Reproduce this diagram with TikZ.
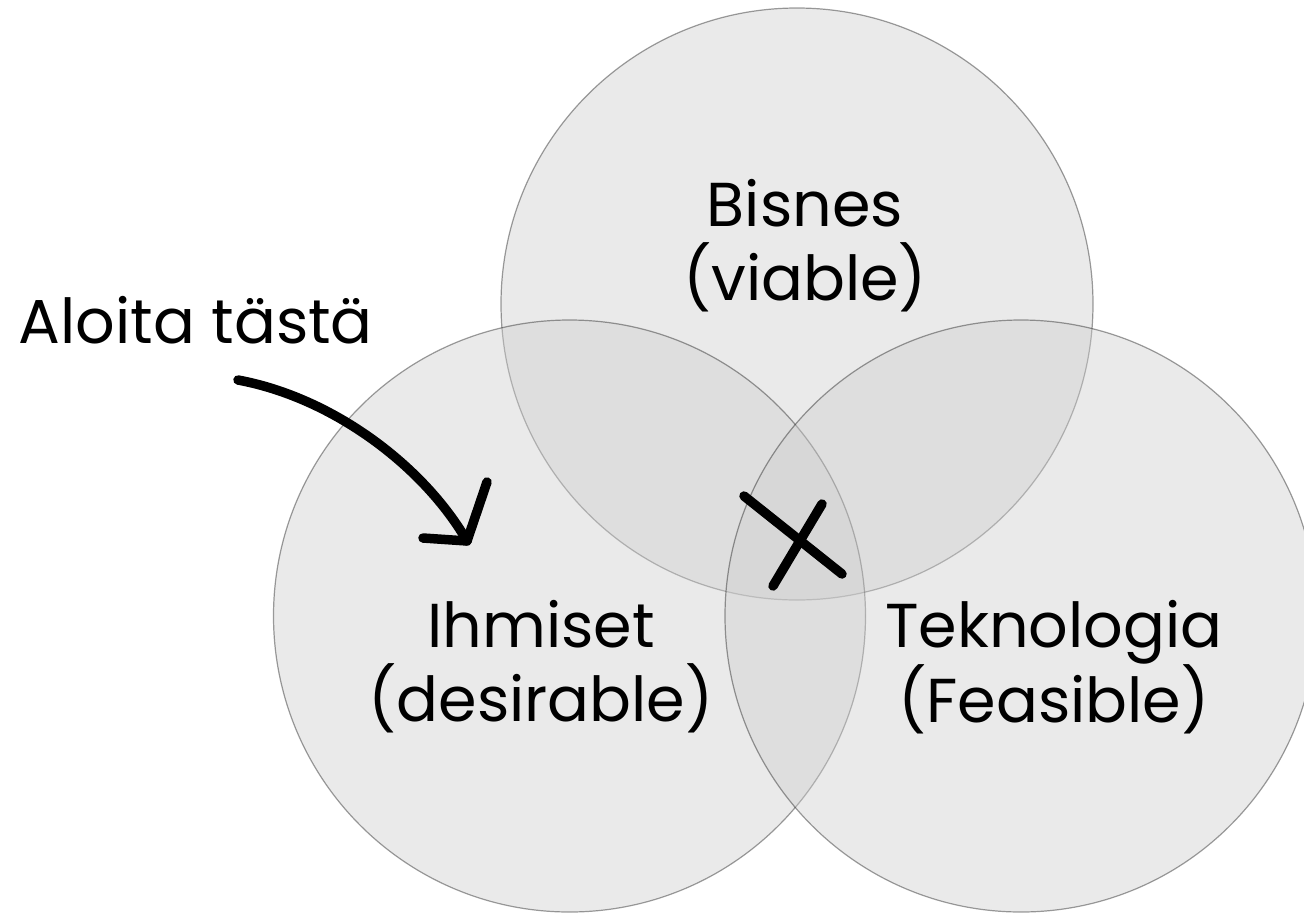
\documentclass[tikz,border=0pt]{standalone}
\usepackage{fontspec}
\setmainfont{Poppins}
\definecolor{vennfill}{RGB}{206,206,206}
\tikzset{
  venn/.style={circle, minimum size=592pt, inner sep=0pt, fill=vennfill, fill opacity=0.43, draw=black, draw opacity=0.38, line width=1.2pt},
  lbl/.style={align=center, font=\fontsize{62}{74}\selectfont, text=black},
  ink/.style={line width=9.5pt, line cap=round, line join=round, draw=black}
}
\begin{document}
\begin{tikzpicture}[x=1pt,y=-1pt]
\useasboundingbox (0,0) rectangle (1304,914);
\clip (0,0) rectangle (1304,914);
\node[venn] (top) at (797,304) {};
\node[venn] (left) at (569.5,616) {};
\node[venn] (right) at (1021,616) {};
\node[lbl] (bisnes) at (805,246) {Bisnes\\(viable)};
\node[lbl] (ihmiset) at (541,667) {Ihmiset\\(desirable)};
\node[lbl] (tekno) at (1054,667) {Teknologia\\(Feasible)};
\node[lbl, anchor=base west] (start) at (15,343) {Aloita tästä};
\coordinate (a0) at (238,380);
\coordinate (a1) at (467,541);
\coordinate (h1) at (487,482);
\coordinate (h2) at (423,538);
\draw[ink] (a0) .. controls (335,398) and (425,468) .. (a1);
\draw[ink] (h1) -- (a1) -- (h2);
\coordinate (x1) at (744,496);
\coordinate (x2) at (842,574);
\coordinate (x3) at (822,504);
\coordinate (x4) at (773,586);
\draw[ink] (x1) -- (x2);
\draw[ink] (x3) -- (x4);
\end{tikzpicture}
\end{document}
